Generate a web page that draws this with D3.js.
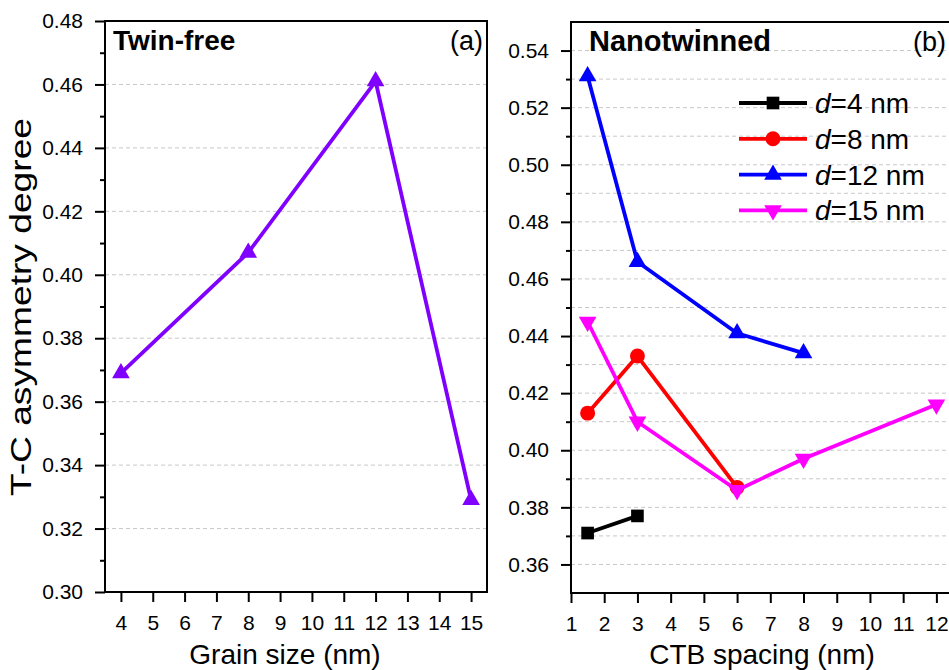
<html>
  <head>
    <script src="https://cdnjs.cloudflare.com/ajax/libs/d3/7.8.5/d3.min.js"></script>
    <style>
      body { margin: 0; background: #fff; }
      text { font-family: "Liberation Sans", Arial, sans-serif; fill: #000; }
    </style>
  </head>
  <body>
    <svg id="chart" width="949" height="670"></svg>
    <script>

      // panel (a): twin-free
      let grainSize = [4, 8, 12, 15];
      let twinFree = [0.369, 0.407, 0.461, 0.329];
      let grainTicks = [4, 5, 6, 7, 8, 9, 10, 11, 12, 13, 14, 15];
      let leftYTicks = [0.30, 0.32, 0.34, 0.36, 0.38, 0.40, 0.42, 0.44, 0.46, 0.48];

      // panel (b): nanotwinned, one series per grain size d
      let seriesNames = ["4", "8", "12", "15"];
      let seriesColors = ["#000000", "#ff0000", "#0000ff", "#ff00ff"];
      let seriesMarks = ["square", "circle", "up", "down"];
      let spacingD4 = [1.5, 3];
      let degreeD4 = [0.371, 0.377];
      let spacingD8 = [1.5, 3, 6];
      let degreeD8 = [0.413, 0.433, 0.387];
      let spacingD12 = [1.5, 3, 6, 8];
      let degreeD12 = [0.531, 0.466, 0.441, 0.434];
      let spacingD15 = [1.5, 3, 6, 8, 12];
      let degreeD15 = [0.445, 0.410, 0.386, 0.397, 0.416];
      let ctbTicks = [1, 2, 3, 4, 5, 6, 7, 8, 9, 10, 11, 12];
      let rightYTicks = [0.36, 0.38, 0.40, 0.42, 0.44, 0.46, 0.48, 0.50, 0.52, 0.54];

      let svg = d3.select("#chart");

      function markerPath(kind) {
        if (kind == "square") return d3.symbol(d3.symbolSquare, 160)();
        if (kind == "circle") return d3.symbol(d3.symbolCircle, 175)();
        return d3.symbol(d3.symbolTriangle, 135)();
      }

      function drawPanel(p) {
        var g = svg.append("g");
        var x = d3.scaleLinear().domain(p.xDomain).range([p.left, p.right]);
        var y = d3.scaleLinear().domain(p.yDomain).range([p.bottom, p.top]);

        // dashed grid
        g.append("g")
          .selectAll("line")
          .data(p.grid)
          .enter()
          .append("line")
          .attr("x1", p.left)
          .attr("x2", p.right)
          .attr("y1", d => y(d))
          .attr("y2", d => y(d))
          .style("stroke", "#c8c8c8")
          .style("stroke-width", 1)
          .style("stroke-dasharray", "4,3");

        // frame
        g.append("rect")
          .attr("x", p.left)
          .attr("y", p.top)
          .attr("width", p.right - p.left)
          .attr("height", p.bottom - p.top)
          .style("fill", "none")
          .style("stroke", "#000")
          .style("stroke-width", 2);

        // y axis, major + minor
        g.append("g")
          .attr("transform", "translate(" + p.left + ",0)")
          .call(d3.axisLeft(y).tickValues(p.yTicks).tickSize(10).tickPadding(12)
            .tickFormat(d3.format(".2f")));
        g.append("g")
          .attr("transform", "translate(" + p.left + ",0)")
          .call(d3.axisLeft(y).tickValues(p.yMinor).tickSize(5).tickFormat(""));

        g.append("g")
          .attr("transform", "translate(0," + p.bottom + ")")
          .call(d3.axisBottom(x).tickValues(p.xTicks).tickSize(10).tickPadding(13));

        g.selectAll(".domain").remove();
        g.selectAll(".tick line").style("stroke", "#000").style("stroke-width", 2);
        g.selectAll(".tick text")
          .style("font-size", "21px")
          .style("font-family", "'Liberation Sans', Arial, sans-serif");

        // title inside frame and panel letter
        g.append("text")
          .attr("x", p.titleX)
          .attr("y", p.top + 29)
          .style("font-size", p.titleSize)
          .style("font-weight", "bold")
          .text(p.title);
        g.append("text")
          .attr("x", p.letterX)
          .attr("y", p.top + 29)
          .attr("text-anchor", "end")
          .style("font-size", "27px")
          .text(p.letter);

        // x title
        g.append("text")
          .attr("x", p.xTitleX)
          .attr("y", 664)
          .attr("text-anchor", "middle")
          .style("font-size", "28px")
          .text(p.xTitle);

        // data
        p.series.forEach(s => {
          var pts = s.xs.map((v, i) => [x(v), y(s.ys[i])]);
          g.append("path")
            .attr("d", d3.line()(pts))
            .style("fill", "none")
            .style("stroke", s.color)
            .style("stroke-width", 3.8)
            .style("stroke-linejoin", "round");
          g.selectAll(null)
            .data(pts)
            .enter()
            .append("path")
            .attr("d", markerPath(s.mark))
            .attr("transform", d => "translate(" + d[0] + "," + d[1] + ")" + (s.mark == "down" ? " rotate(180)" : ""))
            .style("fill", s.color);
        });
        return g;
      }

      drawPanel({
        left: 105, right: 487, top: 21, bottom: 592,
        xDomain: [3.5, 15.5], yDomain: [0.30, 0.48],
        xTicks: grainTicks, yTicks: leftYTicks,
        yMinor: [0.31, 0.33, 0.35, 0.37, 0.39, 0.41, 0.43, 0.45, 0.47],
        grid: [0.32, 0.34, 0.36, 0.38, 0.40, 0.42, 0.44, 0.46],
        title: "Twin-free", titleX: 113, titleSize: "28px",
        letter: "(a)", letterX: 483,
        xTitle: "Grain size (nm)", xTitleX: 285,
        series: [{ xs: grainSize, ys: twinFree, color: "#8000ff", mark: "up" }]
      });

      let rightSeries = [
        { xs: spacingD4, ys: degreeD4 },
        { xs: spacingD8, ys: degreeD8 },
        { xs: spacingD12, ys: degreeD12 },
        { xs: spacingD15, ys: degreeD15 }
      ];
      rightSeries.forEach((s, i) => { s.color = seriesColors[i]; s.mark = seriesMarks[i]; });

      drawPanel({
        left: 571, right: 953, top: 22, bottom: 593,
        xDomain: [1, 12.5], yDomain: [0.35, 0.55],
        xTicks: ctbTicks, yTicks: rightYTicks,
        yMinor: [0.37, 0.39, 0.41, 0.43, 0.45, 0.47, 0.49, 0.51, 0.53],
        grid: d3.range(0.36, 0.545, 0.01),
        title: "Nanotwinned", titleX: 589, titleSize: "29px",
        letter: "(b)", letterX: 946,
        xTitle: "CTB spacing (nm)", xTitleX: 762,
        series: rightSeries
      });

      // y title for panel (a)
      svg.append("text")
        .attr("transform", "translate(31,307) rotate(-90)")
        .attr("text-anchor", "middle")
        .attr("textLength", 378)
        .attr("lengthAdjust", "spacingAndGlyphs")
        .style("font-size", "30px")
        .text("T-C asymmetry degree");

      // legend
      var legend = svg.append("g");
      seriesNames.forEach((name, i) => {
        var ly = 103 + i * 35.8;
        legend.append("line")
          .attr("x1", 739).attr("x2", 807)
          .attr("y1", ly).attr("y2", ly)
          .style("stroke", seriesColors[i])
          .style("stroke-width", 3.8);
        legend.append("path")
          .attr("d", markerPath(seriesMarks[i]))
          .attr("transform", "translate(773," + ly + ")" + (seriesMarks[i] == "down" ? " rotate(180)" : ""))
          .style("fill", seriesColors[i]);
        var t = legend.append("text")
          .attr("x", 815)
          .attr("y", ly + 10)
          .style("font-size", "28px");
        t.append("tspan").style("font-style", "italic").text("d");
        t.append("tspan").text("=" + name + " nm");
      });

    </script>
  </body>
</html>
